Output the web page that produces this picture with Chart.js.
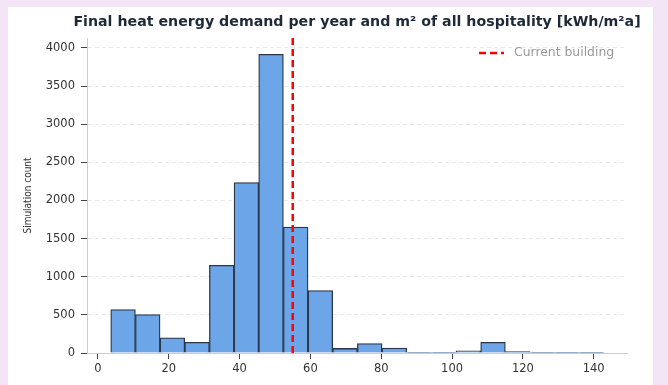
<!DOCTYPE html>
<html>
<head>
<meta charset="utf-8">
<script src="https://cdn.jsdelivr.net/npm/chart.js@4"></script>
<style>
  html, body { margin: 0; padding: 0; background: #f3e5f5; }
  .card { position: absolute; left: 8px; top: 7px; width: 645px; height: 378px; background: #fff; }
  canvas { display: block; }
</style>
</head>
<body>
<div class="card"><canvas id="histChart" width="645" height="378"></canvas></div>
<script>
// histogram bins of final heat energy demand [kWh/m²a]
const binEdges = [3.60, 10.57, 17.53, 24.50, 31.46, 38.43, 45.39, 52.36, 59.32, 66.29, 73.25,
                  80.22, 87.18, 94.15, 101.11, 108.08, 115.04, 122.01, 128.97, 135.94, 142.90];
const counts = [570, 505, 200, 140, 1150, 2235, 3915, 1650, 820, 60, 125, 65, 10, 5, 30, 140, 20, 3, 2, 2];
const currentBuilding = 55;
const xTicks = [0, 20, 40, 60, 80, 100, 120, 140];
const yTicks = [0, 500, 1000, 1500, 2000, 2500, 3000, 3500, 4000];
const titleText = 'Final heat energy demand per year and m² of all hospitality [kWh/m²a]';
const yMax = 4130;

const bars = counts.map((c, i) => ({ x: (binEdges[i] + binEdges[i + 1]) / 2, y: c }));

// title centred over the plot area and legend drawn inside it
const overlay = {
  id: 'overlay',
  afterDraw(chart) {
    const { ctx, chartArea } = chart;
    ctx.save();
    ctx.fillStyle = '#1f2937';
    ctx.font = 'bold 14.2px "DejaVu Sans"';
    ctx.textAlign = 'center';
    ctx.textBaseline = 'middle';
    ctx.fillText(titleText, (chartArea.left + chartArea.right) / 2, 15);

    const ds = chart.data.datasets[1];
    const ly = 46;
    ctx.strokeStyle = ds.borderColor;
    ctx.lineWidth = 2.5;
    ctx.setLineDash([7, 4]);
    ctx.beginPath();
    ctx.moveTo(471, ly);
    ctx.lineTo(496, ly);
    ctx.stroke();
    ctx.setLineDash([]);
    ctx.fillStyle = '#999';
    ctx.font = '12.4px "DejaVu Sans"';
    ctx.textAlign = 'left';
    ctx.fillText(ds.label, 506, ly);
    ctx.restore();
  }
};

new Chart(document.getElementById('histChart'), {
  type: 'bar',
  data: {
    datasets: [{
      label: 'Simulations',
      data: bars,
      backgroundColor: '#6ca6e8',
      borderColor: '#2b3649',
      borderWidth: 1.3,
      barPercentage: 1,
      categoryPercentage: 1,
      order: 2
    }, {
      type: 'line',
      label: 'Current building',
      data: [{ x: currentBuilding, y: 0 }, { x: currentBuilding, y: yMax }],
      borderColor: '#ff0000',
      borderWidth: 2.5,
      borderDash: [7, 4],
      pointRadius: 0,
      order: 1
    }]
  },
  options: {
    responsive: false,
    animation: false,
    layout: { padding: { top: 31, right: 26, left: 0, bottom: 0 } },
    plugins: {
      legend: { display: false },
      title: { display: false },
      tooltip: { enabled: false }
    },
    scales: {
      x: {
        type: 'linear',
        offset: false,
        min: -3.1,
        max: 149.4,
        afterFit: s => { s.height = 32; },
        afterBuildTicks: s => { s.ticks = xTicks.map(v => ({ value: v })); },
        ticks: { color: '#333', font: { family: 'DejaVu Sans', size: 11.5 }, padding: 3, maxRotation: 0, callback: v => v },
        grid: { offset: false, drawOnChartArea: false, drawTicks: true, tickLength: 6, tickColor: '#444' },
        border: { color: '#ccc', width: 1 }
      },
      y: {
        min: 0,
        max: yMax,
        afterFit: s => { s.width = 79; },
        afterBuildTicks: s => { s.ticks = yTicks.map(v => ({ value: v })); },
        ticks: { color: '#333', font: { family: 'DejaVu Sans', size: 11.5 }, padding: 6, callback: v => v },
        grid: { color: '#e8e8e8', tickBorderDash: [], tickLength: 6, tickColor: '#444' },
        border: { color: '#ccc', width: 1, dash: [4, 3] },
        title: {
          display: true,
          text: 'Simulation count',
          color: '#333',
          font: { family: '"DejaVu Sans Condensed", Roboto', size: 10 },
          padding: { top: 14, bottom: 0 }
        }
      }
    }
  },
  plugins: [overlay]
});
</script>
</body>
</html>
